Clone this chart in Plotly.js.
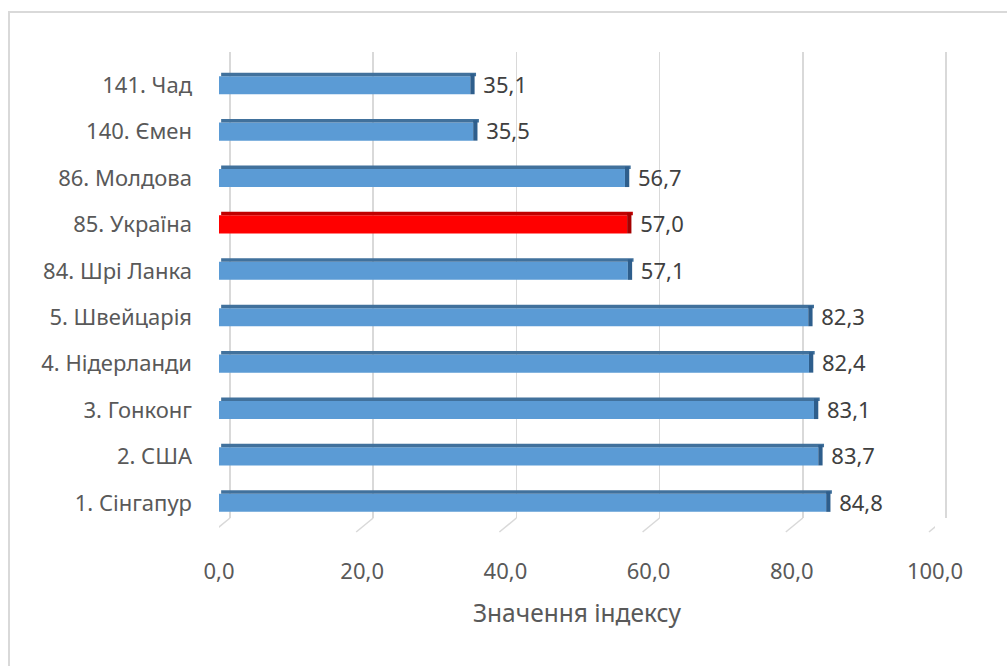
<!DOCTYPE html>
<html>
<head>
<meta charset="utf-8">
<script src="https://cdn.plot.ly/plotly-3.0.1.min.js"></script>
<style>
  html, body { margin: 0; padding: 0; overflow: hidden; background: #fff; }
  #frame { position: absolute; left: 8px; top: 11px; width: 1100px; height: 800px; border: 2px solid #D9D9D9; box-sizing: border-box; }
  #chart { position: absolute; left: 0; top: 0; width: 1007px; height: 666px; }
</style>
</head>
<body>
<div id="frame"></div>
<div id="chart"></div>
<script>
// Data (top to bottom as shown)
const categories = ['141. Чад', '140. Ємен', '86. Молдова', '85. Україна', '84. Шрі Ланка',
                    '5. Швейцарія', '4. Нідерланди', '3. Гонконг', '2. США', '1. Сінгапур'];
const values = [35.1, 35.5, 56.7, 57.0, 57.1, 82.3, 82.4, 83.1, 83.7, 84.8];
const highlighted = ['85. Україна'];
const tickValues = [0, 20, 40, 60, 80, 100];
const axisTitle = 'Значення індексу';

const FONT = '"Noto Sans", sans-serif';
const isHi = categories.map(c => highlighted.includes(c));
const frontColors = isHi.map(h => h ? '#FF0000' : '#5B9BD5');
const topColors = isHi.map(h => h ? '#C00000' : '#41719C');
const sideColors = isHi.map(h => h ? '#A50000' : '#2E5E8C');
const labels = values.map(v => v.toFixed(1).replace('.', ','));

// back wall (gridlines) subplot: invisible carrier trace so the subplot gets drawn
const backCarrier = {
  type: 'scatter', mode: 'markers', xaxis: 'x', yaxis: 'y',
  y: categories, x: values, marker: { opacity: 0 }, hoverinfo: 'skip'
};
const front = {
  type: 'bar', orientation: 'h', xaxis: 'x2', yaxis: 'y2',
  y: categories, x: values, width: 0.39,
  marker: { color: frontColors, line: { width: 0 } },
  hoverinfo: 'skip'
};
const topFace = {
  type: 'bar', orientation: 'h', xaxis: 'x2', yaxis: 'y2',
  y: categories, x: values.map(v => v + 0.5), base: values.map(() => 0.3), width: 0.075, offset: -0.27,
  marker: { color: topColors, line: { width: 0 } },
  hoverinfo: 'skip'
};
const sideFace = {
  type: 'bar', orientation: 'h', xaxis: 'x2', yaxis: 'y2',
  y: categories, x: values.map(() => 0.6), base: values, width: 0.44, offset: -0.245,
  marker: { color: sideColors, line: { width: 0 } },
  text: labels, texttemplate: '\u00A0%{text}', textposition: 'outside', cliponaxis: false,
  constraintext: 'none',
  textfont: { family: FONT, size: 22, color: '#404040' },
  hoverinfo: 'skip'
};

const W = 1007, H = 666;
const L = 219, R = 56, T = 52, B = 140;
const pw = W - L - R, ph = H - T - B;
const pxPerUnit = 7.16;            // front plane scale
const frontWidth = 100 * pxPerUnit; // 0..100
const depthX = 11, depthY = 8;      // 3D offset of back wall (px)
const pad = 0.5;                    // keeps edge gridlines from being clipped

// diagonal floor ticks
const shapes = tickValues.map(v => ({
  type: 'line', xref: 'x2', yref: 'paper',
  x0: v + depthX / pxPerUnit, y0: depthY / ph, x1: v - 0.84, y1: -6 / ph,
  line: { color: '#D9D9D9', width: 1.5 }
}));

const layout = {
  width: W, height: H,
  margin: { l: L, r: R, t: T, b: B, pad: 0 },
  paper_bgcolor: 'rgba(0,0,0,0)', plot_bgcolor: 'rgba(0,0,0,0)',
  showlegend: false, barmode: 'overlay',
  separators: ', ',
  font: { family: FONT, color: '#595959', size: 22 },
  xaxis: {
    domain: [(depthX - pad * pxPerUnit) / pw, (depthX + frontWidth + pad * pxPerUnit) / pw],
    range: [-pad, 100 + pad], anchor: 'y',
    tickvals: tickValues, showgrid: true, gridcolor: '#D9D9D9', gridwidth: 1.5,
    zeroline: false, showline: false, showticklabels: false, ticks: ''
  },
  yaxis: {
    domain: [depthY / ph, 1], anchor: 'x', type: 'category',
    categoryorder: 'array', categoryarray: categories, autorange: 'reversed',
    showgrid: false, zeroline: false, showline: false, showticklabels: false, ticks: ''
  },
  xaxis2: {
    domain: [0, frontWidth / pw], range: [0, 100], anchor: 'y2',
    tickvals: tickValues, tickformat: '.1f',
    showgrid: false, zeroline: false, showline: false, ticks: '',
    ticklabelstandoff: 30,
    tickfont: { family: FONT, size: 22, color: '#595959' },
    title: { text: axisTitle, standoff: 20, font: { family: FONT, size: 24.5, color: '#595959' } }
  },
  yaxis2: {
    domain: [0, 1 - 10 / ph], anchor: 'x2', type: 'category',
    categoryorder: 'array', categoryarray: categories, autorange: 'reversed',
    showgrid: false, zeroline: false, showline: false, ticks: '',
    ticklabelstandoff: 26,
    tickfont: { family: FONT, size: 22, color: '#595959' }
  },
  shapes: shapes
};

Plotly.newPlot('chart', [backCarrier, front, topFace, sideFace], layout, { staticPlot: true, displayModeBar: false });
</script>
</body>
</html>
